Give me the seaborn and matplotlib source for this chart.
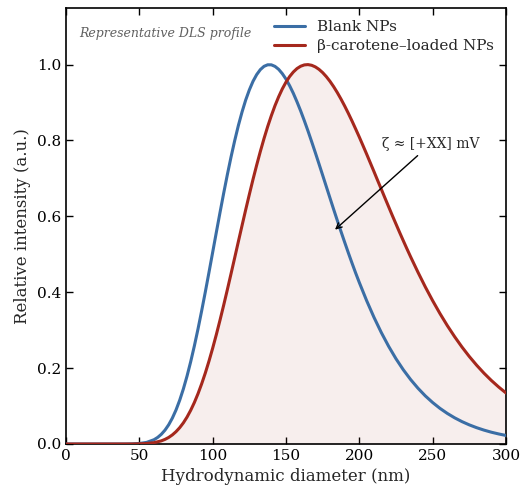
import matplotlib
matplotlib.use("Agg")
import matplotlib.pyplot as plt
import seaborn as sns
import pandas as pd

# ---- data ----
# coarse grid: every 5 nm
diameter_nm = list(range(0, 305, 5))
blank_np = [0, 0, 0, 0, 0, 0, 0, 0, 0,
            0.0003, 0.0013, 0.0043, 0.0113, 0.0257, 0.0507, 0.0897, 0.1450,
            0.2168, 0.3033, 0.4012, 0.5054, 0.6102, 0.7099, 0.7993, 0.8748,
            0.9333, 0.9736, 0.9954, 0.9994, 0.9875, 0.9617, 0.9243, 0.8779,
            0.8251, 0.7679, 0.7084, 0.6483, 0.5890, 0.5318, 0.4770, 0.4256,
            0.3778, 0.3338, 0.2937, 0.2574, 0.2247, 0.1956, 0.1698, 0.1470,
            0.1268, 0.1093, 0.0939, 0.0806, 0.0690, 0.0590, 0.0504, 0.0430,
            0.0366, 0.0311, 0.0265, 0.0225]
loaded_np = [0, 0, 0, 0, 0, 0, 0, 0, 0, 0,
             0.0004, 0.0013, 0.0035, 0.0083, 0.0173, 0.0325, 0.0557, 0.0888,
             0.1326, 0.1874, 0.2526, 0.3265, 0.4067, 0.4907, 0.5754, 0.6578,
             0.7351, 0.8050, 0.8654, 0.9153, 0.9538, 0.9805, 0.9957, 1.0000,
             0.9940, 0.9789, 0.9559, 0.9262, 0.8910, 0.8515, 0.8089, 0.7641,
             0.7180, 0.6716, 0.6253, 0.5799, 0.5357, 0.4932, 0.4527, 0.4140,
             0.3778, 0.3438, 0.3121, 0.2828, 0.2556, 0.2306, 0.2077, 0.1867,
             0.1676, 0.1503, 0.1345]
# extra readings between the 5 nm points, where the curves bend most
blank_extra_nm = [62.5, 67.5, 72.5, 77.5, 82.5, 87.5, 92.5, 97.5, 102.5,
                  107.5, 112.5, 117.5, 122.5, 127.5, 132.5, 137.5, 142.5,
                  147.5, 152.5, 157.5, 162.5, 167.5, 172.5, 177.5, 182.5,
                  187.5, 192.5, 197.5]
blank_extra = [0.0174, 0.0366, 0.0683, 0.1153, 0.1789, 0.2584, 0.3513, 0.4529,
               0.5581, 0.6610, 0.7562, 0.8392, 0.9065, 0.9559, 0.9868, 0.9995,
               0.9953, 0.9761, 0.9442, 0.9019, 0.8521, 0.7968, 0.7383, 0.6783,
               0.6184, 0.5601, 0.5040, 0.4507]
loaded_extra_nm = [67.5, 72.5, 77.5, 82.5, 87.5, 92.5, 97.5, 102.5, 107.5,
                   112.5, 117.5, 122.5, 127.5, 132.5, 137.5, 142.5, 147.5,
                   152.5, 157.5, 162.5, 167.5, 172.5, 177.5, 182.5, 187.5,
                   192.5, 197.5, 202.5, 207.5, 212.5, 217.5, 222.5, 227.5,
                   232.5]
loaded_extra = [0.0122, 0.0240, 0.0430, 0.0709, 0.1093, 0.1587, 0.2188, 0.2885,
                0.3659, 0.4485, 0.5333, 0.6172, 0.6974, 0.7711, 0.8366, 0.8919,
                0.9361, 0.9687, 0.9896, 0.9992, 0.9982, 0.9875, 0.9683, 0.9418,
                0.9092, 0.8717, 0.8304, 0.7866, 0.7410, 0.6946, 0.6483, 0.6023,
                0.5575, 0.5142]
series_names = ["Blank NPs", "\u03b2-carotene\u2013loaded NPs"]
x_ticks = [0, 50, 100, 150, 200, 250, 300]
y_ticks = [0.0, 0.2, 0.4, 0.6, 0.8, 1.0]

BLUE = "#3b6ea5"
RED = "#a5281d"

sns.set_style("ticks")
plt.rcParams["font.family"] = ["DejaVu Serif"]
plt.rcParams["mathtext.fontset"] = "dejavuserif"

blank_df = pd.DataFrame({"d": diameter_nm + blank_extra_nm,
                         "I": blank_np + blank_extra})
blank_df["sample"] = series_names[0]
loaded_df = pd.DataFrame({"d": diameter_nm + loaded_extra_nm,
                          "I": loaded_np + loaded_extra})
loaded_df["sample"] = series_names[1]
loaded_df = loaded_df.sort_values("d")
df = pd.concat([blank_df, loaded_df], ignore_index=True).sort_values(["sample", "d"])

fig = plt.figure(figsize=(5.2, 4.93), dpi=100)
ax = fig.add_axes([0.127, 0.0994, 0.846, 0.885])

ax.fill_between(loaded_df["d"], loaded_df["I"], 0, color=RED, alpha=0.08,
                linewidth=0, zorder=1)
sns.lineplot(data=df, x="d", y="I", hue="sample", hue_order=series_names,
             palette=[BLUE, RED], linewidth=2.2, ax=ax, zorder=3)

ax.set_xlim(0, 300)
ax.set_ylim(0, 1.15)
ax.set_xticks(x_ticks)
ax.set_yticks(y_ticks)
ax.set_xticklabels([str(v) for v in x_ticks])
ax.set_yticklabels([f"{v:.1f}" for v in y_ticks])
ax.tick_params(direction="in", top=True, right=True, length=5, width=1.0,
               labelsize=11, colors="black")
for s in ax.spines.values():
    s.set_visible(True)
    s.set_linewidth(1.2)
    s.set_color("black")

ax.set_xlabel("Hydrodynamic diameter (nm)", fontsize=12)
ax.set_ylabel("Relative intensity (a.u.)", fontsize=12)

leg = ax.legend(loc="upper right", frameon=False, fontsize=11,
                handlelength=2.0, borderaxespad=0.4, labelspacing=0.35)

ax.text(0.03, 0.94, "Representative DLS profile", transform=ax.transAxes,
        fontsize=9, style="italic", color="#606060", ha="left", va="center")

ax.annotate("\u03b6 \u2248 [+XX] mV", xy=(182, 0.56), xytext=(249, 0.792),
            fontsize=10, ha="center", va="center",
            arrowprops=dict(arrowstyle="->", color="black", lw=1.0))

fig.savefig("out.png", dpi=100)
